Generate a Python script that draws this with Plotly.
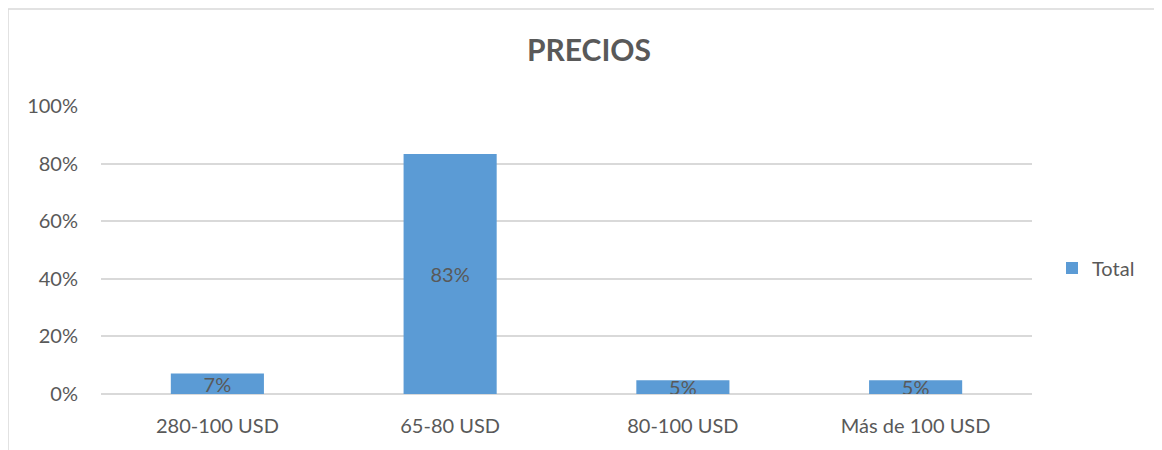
import plotly.graph_objects as go

# datos del grafico
categorias = ["280-100 USD", "65-80 USD", "80-100 USD", "Más de 100 USD"]
valores = [0.0714, 0.8333, 0.0476, 0.0476]
etiquetas = ["7%", "83%", "5%", "5%"]
ticks_y = [0, 0.2, 0.4, 0.6, 0.8, 1.0]
ticks_y_texto = ["0%", "20%", "40%", "60%", "80%", "100%"]

gris = "#595959"
fuente = "Lato, Carlito, Calibri, sans-serif"

fig = go.Figure()
fig.add_trace(go.Bar(
    x=categorias,
    y=valores,
    name="Total",
    marker=dict(color="#5b9bd5", line=dict(width=0)),
    width=0.4,
    text=etiquetas,
    textposition="inside",
    insidetextanchor="middle",
    constraintext="none",
    textfont=dict(family=fuente, size=20, color=gris),
))

# la pagina tiene 8px de margen en el body, se compensa aqui
fig.update_layout(
    title=dict(text="<b>PRECIOS</b>", x=0.5, xanchor="center", y=1 - 42 / 450, yanchor="middle",
               font=dict(family=fuente, size=30, color=gris)),
    width=1162, height=450,
    margin=dict(l=93, r=138, t=98, b=64),
    plot_bgcolor="white",
    paper_bgcolor="white",
    font=dict(family=fuente, size=20, color=gris),
    showlegend=True,
    legend=dict(x=(1044 - 93) / 931, y=(394 - 268) / 288, xanchor="left", yanchor="middle",
                font=dict(family=fuente, size=20, color=gris),
                itemwidth=30),
    xaxis=dict(showgrid=False, showline=False, ticks="", ticklabelstandoff=18,
               tickfont=dict(size=20)),
    yaxis=dict(range=[0, 1.0], tickvals=ticks_y, ticktext=ticks_y_texto,
               showgrid=True, gridcolor="#d9d9d9", gridwidth=1.5,
               zeroline=True, zerolinecolor="#d9d9d9", zerolinewidth=1.5,
               ticklabelstandoff=22, tickfont=dict(size=20)),
    shapes=[dict(type="rect", xref="paper", yref="paper",
                 x0=-93 / 931, x1=1.2, y0=-0.3, y1=1 + 97 / 288,
                 line=dict(color="#d9d9d9", width=1.5), fillcolor="rgba(0,0,0,0)",
                 layer="below")],
)

fig.write_html("out.html")
